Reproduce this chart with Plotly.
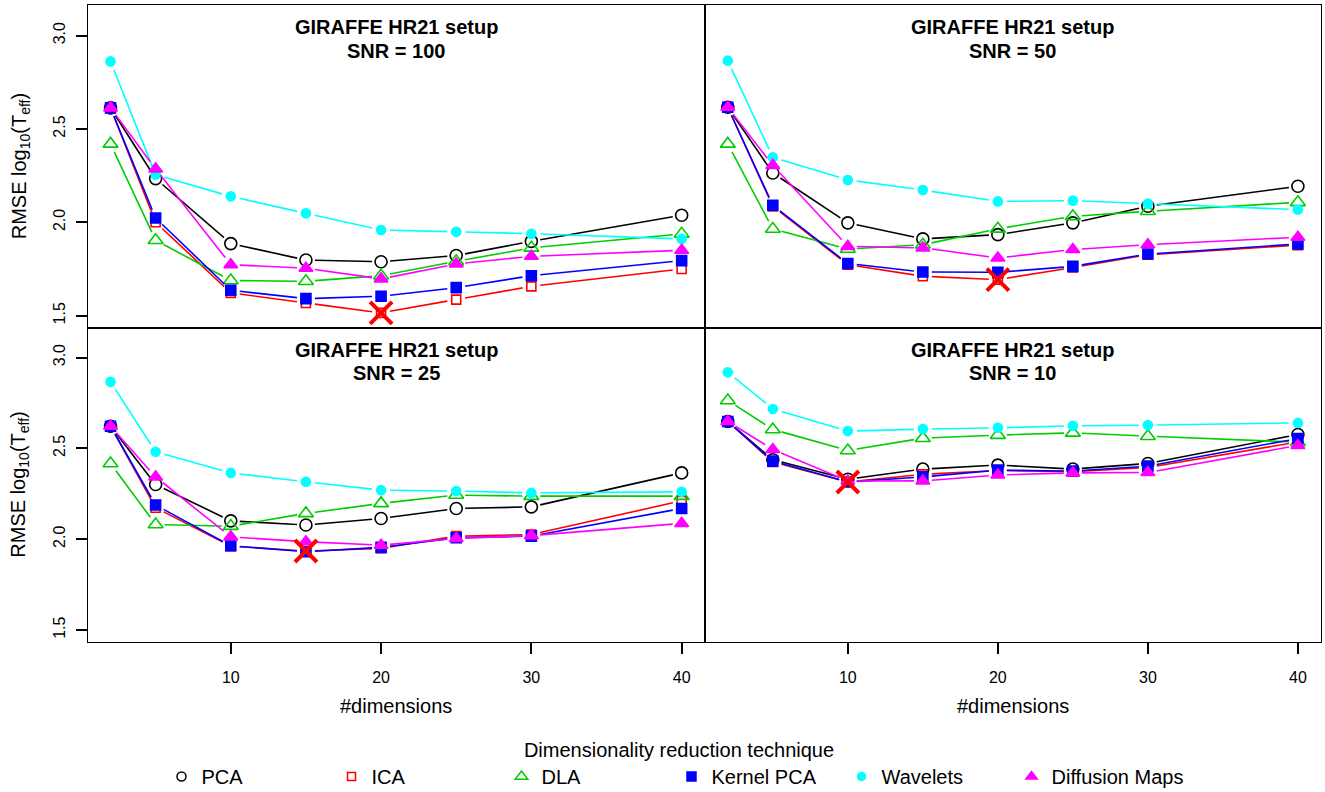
import numpy as np
import plotly.graph_objects as go

W, H = 1325, 792

dims = [2, 5, 10, 15, 20, 25, 30, 40]
methods = ["PCA", "ICA", "DLA", "Kernel PCA", "Wavelets", "Diffusion Maps"]
panel_titles = ["SNR = 100", "SNR = 50", "SNR = 25", "SNR = 10"]
setup_title = "GIRAFFE HR21 setup"
x_ticks = [10, 20, 30, 40]
y_ticks = [1.5, 2.0, 2.5, 3.0]
y_ticktext = ["1.5", "2.0", "2.5", "3.0"]

# SNR = 100
pca_100 = [2.613, 2.234, 1.886, 1.798, 1.789, 1.822, 1.898, 2.038]
ica_100 = [2.613, 2.000, 1.622, 1.568, 1.515, 1.586, 1.657, 1.750]
dla_100 = [2.420, 1.904, 1.688, 1.684, 1.714, 1.791, 1.863, 1.938]
kpca_100 = [2.613, 2.023, 1.636, 1.591, 1.604, 1.650, 1.714, 1.795]
wav_100 = [2.862, 2.255, 2.139, 2.048, 1.959, 1.949, 1.939, 1.911]
dm_100 = [2.613, 2.286, 1.773, 1.754, 1.697, 1.777, 1.818, 1.850]

# SNR = 50
pca_50 = [2.616, 2.264, 1.997, 1.911, 1.934, 1.997, 2.086, 2.193]
ica_50 = [2.616, 2.085, 1.773, 1.711, 1.693, 1.758, 1.826, 1.878]
dla_50 = [2.420, 1.964, 1.857, 1.880, 1.965, 2.032, 2.059, 2.107]
kpca_50 = [2.616, 2.091, 1.779, 1.734, 1.732, 1.764, 1.830, 1.884]
wav_50 = [2.866, 2.348, 2.227, 2.173, 2.112, 2.116, 2.100, 2.068]
dm_50 = [2.616, 2.305, 1.871, 1.863, 1.809, 1.854, 1.880, 1.920]

# SNR = 25
pca_25 = [2.622, 2.301, 2.101, 2.078, 2.114, 2.169, 2.178, 2.365]
ica_25 = [2.622, 2.173, 1.962, 1.935, 1.950, 2.017, 2.026, 2.211]
dla_25 = [2.417, 2.081, 2.072, 2.142, 2.197, 2.243, 2.237, 2.237]
kpca_25 = [2.622, 2.188, 1.964, 1.931, 1.955, 2.008, 2.017, 2.169]
wav_25 = [2.866, 2.481, 2.365, 2.316, 2.270, 2.265, 2.255, 2.261]
dm_25 = [2.622, 2.343, 2.013, 1.986, 1.967, 2.004, 2.020, 2.087]

# SNR = 10
pca_10 = [2.648, 2.437, 2.330, 2.386, 2.408, 2.386, 2.417, 2.576]
ica_10 = [2.648, 2.425, 2.315, 2.357, 2.378, 2.372, 2.395, 2.535]
dla_10 = [2.763, 2.604, 2.488, 2.556, 2.573, 2.585, 2.567, 2.534]
kpca_10 = [2.648, 2.430, 2.315, 2.343, 2.380, 2.375, 2.402, 2.554]
wav_10 = [2.919, 2.717, 2.595, 2.606, 2.613, 2.624, 2.628, 2.640]
dm_10 = [2.648, 2.494, 2.320, 2.321, 2.353, 2.365, 2.367, 2.516]

panels = [
    [pca_100, ica_100, dla_100, kpca_100, wav_100, dm_100],
    [pca_50, ica_50, dla_50, kpca_50, wav_50, dm_50],
    [pca_25, ica_25, dla_25, kpca_25, wav_25, dm_25],
    [pca_10, ica_10, dla_10, kpca_10, wav_10, dm_10],
]

colors = ["#000000", "#FF0000", "#00CD00", "#0000FF", "#00FFFF", "#FF00FF"]
symbols = ["circle-open", "square-open", "triangle-up-open", "square", "circle", "triangle-up"]
sizes = [12, 9, 13, 10, 9, 12]
leg_sizes = [9, 8, 11, 9, 8, 10]

XRANGE = [0.48, 41.52]
YRANGE = [1.436, 3.164]
# pixel boxes (left, right) and (top, bottom)
XL = (87.7, 704.5)
XR = (705.0, 1320.7)
YT = (5.0, 327.6)
YB = (327.7, 641.7)
boxes = [(XL, YT), (XR, YT), (XL, YB), (XR, YB)]

FONT = "Liberation Sans, Arial, Helvetica, sans-serif"


def gapped(xs, ys, kx, ky, gap=9.0):
    gx, gy = [], []
    for i in range(len(xs) - 1):
        x0, y0, x1, y1 = xs[i], ys[i], xs[i + 1], ys[i + 1]
        L = np.hypot((x1 - x0) * kx, (y1 - y0) * ky)
        if L <= 2 * gap:
            continue
        f = gap / L
        gx += [x0 + (x1 - x0) * f, x1 - (x1 - x0) * f, None]
        gy += [y0 + (y1 - y0) * f, y1 - (y1 - y0) * f, None]
    return gx, gy


fig = go.Figure()
layout = {}
annotations = []

for p, (series, ((xl, xr), (yt, yb))) in enumerate(zip(panels, boxes)):
    n = p + 1
    xa = "x" if n == 1 else f"x{n}"
    ya = "y" if n == 1 else f"y{n}"
    kx = (xr - xl) / (XRANGE[1] - XRANGE[0])
    ky = (yb - yt) / (YRANGE[1] - YRANGE[0])
    for m, ys in enumerate(series):
        gx, gy = gapped(dims, ys, kx, ky)
        fig.add_trace(go.Scatter(x=gx, y=gy, mode="lines", xaxis=xa, yaxis=ya,
                                 line=dict(color=colors[m], width=1.6),
                                 showlegend=False, hoverinfo="skip"))
        fig.add_trace(go.Scatter(x=dims, y=ys, mode="markers", xaxis=xa, yaxis=ya,
                                 marker=dict(symbol=symbols[m], size=sizes[m], color=colors[m],
                                             line=dict(color=colors[m], width=1.6)),
                                 showlegend=False, name=methods[m]))
    ica = series[1]
    imin = int(np.argmin(ica))
    fig.add_trace(go.Scatter(x=[dims[imin]], y=[ica[imin]], mode="markers",
                             xaxis=xa, yaxis=ya,
                             marker=dict(symbol="x-thin", size=22, color="#FF0000",
                                         line=dict(color="#FF0000", width=4)),
                             showlegend=False, hoverinfo="skip"))

    bottom = p >= 2
    left = p % 2 == 0
    layout["xaxis" if n == 1 else f"xaxis{n}"] = dict(
        domain=[xl / W, xr / W], range=XRANGE, anchor=ya,
        showline=True, mirror=True, linecolor="black", linewidth=1.4,
        showgrid=False, zeroline=False,
        tickvals=x_ticks, showticklabels=bottom,
        ticks="outside" if bottom else "", ticklen=11, tickwidth=1.5, tickcolor="black",
        tickfont=dict(size=16, color="black", family=FONT), ticklabelstandoff=10,
    )
    layout["yaxis" if n == 1 else f"yaxis{n}"] = dict(
        domain=[1 - yb / H, 1 - yt / H], range=YRANGE, anchor=xa,
        showline=True, mirror=True, linecolor="black", linewidth=1.4,
        showgrid=False, zeroline=False,
        tickvals=y_ticks, ticktext=y_ticktext, showticklabels=left, tickangle=-90,
        ticks="outside" if left else "", ticklen=11, tickwidth=1.5, tickcolor="black",
        tickfont=dict(size=16, color="black", family=FONT), ticklabelstandoff=4,
    )
    cx = (xl + xr) / 2 / W
    annotations.append(dict(text=f"<b>{setup_title}</b>", x=cx, y=1 - (yt + 22) / H,
                            xref="paper", yref="paper", showarrow=False,
                            xanchor="center", yanchor="middle",
                            font=dict(size=20, color="black", family=FONT)))
    annotations.append(dict(text=f"<b>{panel_titles[p]}</b>", x=cx, y=1 - (yt + 45.5) / H,
                            xref="paper", yref="paper", showarrow=False,
                            xanchor="center", yanchor="middle",
                            font=dict(size=20, color="black", family=FONT)))
    if bottom:
        annotations.append(dict(text="#dimensions", x=cx, y=1 - 706 / H,
                                xref="paper", yref="paper", showarrow=False,
                                xanchor="center", yanchor="middle",
                                font=dict(size=20, color="black", family=FONT)))
    if left:
        annotations.append(dict(text="RMSE log<sub>10</sub>(T<sub>eff</sub>)", x=20 / W,
                                y=1 - (yt + yb) / 2 / H, textangle=-90,
                                xref="paper", yref="paper", showarrow=False,
                                xanchor="center", yanchor="middle",
                                font=dict(size=20, color="black", family=FONT)))

# legend-only entries
for m in range(len(methods)):
    extra = {"legendwidth": 140} if m == len(methods) - 1 else {}
    fig.add_trace(go.Scatter(x=[None], y=[None], mode="markers", name=methods[m],
                             marker=dict(symbol=symbols[m], size=leg_sizes[m], color=colors[m],
                                         line=dict(color=colors[m], width=1.5)),
                             showlegend=True, **extra))

fig.update_layout(
    width=W, height=H,
    margin=dict(l=0, r=0, t=0, b=0, autoexpand=False),
    paper_bgcolor="white", plot_bgcolor="white",
    font=dict(family=FONT, color="black"),
    annotations=annotations,
    legend=dict(orientation="h", x=679 / W, xanchor="center", y=1 - 731 / H, yanchor="top",
                title=dict(text="Dimensionality reduction technique", side="top center",
                           font=dict(size=20, color="black", family=FONT)),
                font=dict(size=20, color="black", family=FONT),
                entrywidth=125, entrywidthmode="pixels", bgcolor="rgba(0,0,0,0)",
                tracegroupgap=0, itemclick=False),
    **layout,
)

fig.write_html("out.html")
